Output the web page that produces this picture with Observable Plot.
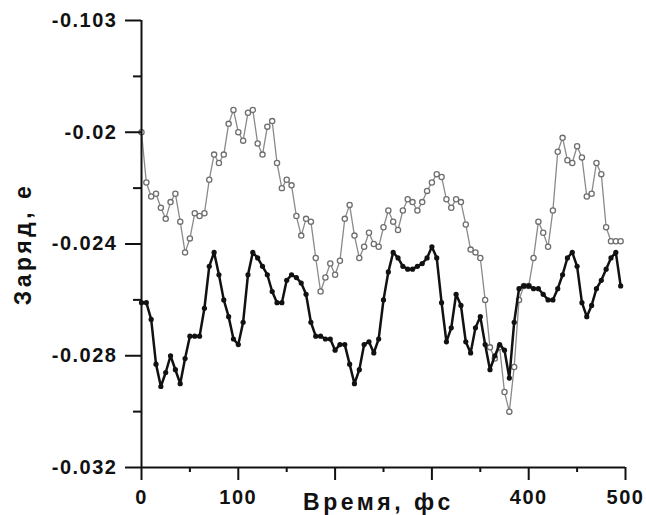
<!DOCTYPE html>
<html><head><meta charset="utf-8">
<script src="https://cdn.jsdelivr.net/npm/d3@7"></script>
<script src="https://cdn.jsdelivr.net/npm/@observablehq/plot@0.6"></script>
<style>
body{margin:0;background:#fff}
#chart svg{font-family:"Liberation Sans",Arial,sans-serif;background:#fff}
#chart g[aria-label*="tick label"] text{letter-spacing:1.5px}
</style></head><body><div id="chart"></div>
<script>
// Time, fs (sampling grid)
const times = [
  0,5,10,15,20,25,30,35,40,45,
  50,55,60,65,70,75,80,85,90,95,
  100,105,110,115,120,125,130,135,140,145,
  150,155,160,165,170,175,180,185,190,195,
  200,205,210,215,220,225,230,235,240,245,
  250,255,260,265,270,275,280,285,290,295,
  300,305,310,315,320,325,330,335,340,345,
  350,355,360,365,370,375,380,385,390,395,
  400,405,410,415,420,425,430,435,440,445,
  450,455,460,465,470,475,480,485,490,495
];
// Black series (filled markers)
const chargeBlack = [
  -0.0261,-0.0261,-0.0267,-0.0283,-0.0291,-0.0286,-0.0280,-0.0285,-0.0290,-0.0281,
  -0.0273,-0.0273,-0.0273,-0.0263,-0.0248,-0.0243,-0.0251,-0.0260,-0.0266,-0.0274,
  -0.0276,-0.0268,-0.0251,-0.0243,-0.0245,-0.0248,-0.0251,-0.0257,-0.0261,-0.0261,
  -0.0253,-0.0251,-0.0252,-0.0254,-0.0258,-0.0268,-0.0273,-0.0273,-0.0274,-0.0274,
  -0.0278,-0.0276,-0.0276,-0.0283,-0.0290,-0.0285,-0.0276,-0.0275,-0.0279,-0.0274,
  -0.0260,-0.0250,-0.0243,-0.0245,-0.0248,-0.0249,-0.0249,-0.0248,-0.0247,-0.0245,
  -0.0241,-0.0245,-0.0261,-0.0275,-0.0270,-0.0258,-0.0262,-0.0275,-0.0279,-0.0270,
  -0.0266,-0.0276,-0.0285,-0.0280,-0.0276,-0.0278,-0.0288,-0.0268,-0.0256,-0.0255,
  -0.0255,-0.0256,-0.0256,-0.0258,-0.0260,-0.0260,-0.0256,-0.0251,-0.0245,-0.0243,
  -0.0248,-0.0261,-0.0266,-0.0262,-0.0256,-0.0253,-0.0249,-0.0245,-0.0243,-0.0255
];
// Gray series (open markers)
const chargeGray = [
  -0.0200,-0.0218,-0.0223,-0.0222,-0.0227,-0.0231,-0.0225,-0.0222,-0.0232,-0.0243,
  -0.0238,-0.0229,-0.0230,-0.0229,-0.0217,-0.0208,-0.0211,-0.0208,-0.0197,-0.0192,
  -0.0200,-0.0203,-0.0193,-0.0192,-0.0204,-0.0208,-0.0198,-0.0196,-0.0211,-0.0220,
  -0.0217,-0.0219,-0.0230,-0.0237,-0.0231,-0.0232,-0.0245,-0.0257,-0.0252,-0.0247,
  -0.0251,-0.0246,-0.0231,-0.0226,-0.0237,-0.0245,-0.0241,-0.0236,-0.0240,-0.0241,
  -0.0234,-0.0228,-0.0232,-0.0235,-0.0228,-0.0224,-0.0225,-0.0228,-0.0225,-0.0221,
  -0.0218,-0.0215,-0.0216,-0.0224,-0.0227,-0.0224,-0.0225,-0.0233,-0.0242,-0.0243,
  -0.0245,-0.0260,-0.0277,-0.0281,-0.0277,-0.0293,-0.0300,-0.0284,-0.0260,-0.0255,
  -0.0255,-0.0245,-0.0232,-0.0236,-0.0241,-0.0228,-0.0207,-0.0202,-0.0210,-0.0211,
  -0.0205,-0.0209,-0.0223,-0.0222,-0.0211,-0.0215,-0.0234,-0.0239,-0.0239,-0.0239
];
const yTicks = [-0.032, -0.028, -0.024, -0.02, -0.016];
const yTickLabels = ["-0.032", "-0.028", "-0.024", "-0.02", "-0.103"];
const yMinorTicks = [-0.030, -0.026, -0.022, -0.018];
const xTicks = [0, 100, 200, 300, 400, 500];
const xTickLabels = ["0", "100", "", "", "400", "500"];
const xMinorTicks = [50, 150, 250, 350, 450];
const xTitle = "Время, фс";
const yTitle = "Заряд, е";

const black = times.map((t, i) => ({t, v: chargeBlack[i]}));
const gray = times.map((t, i) => ({t, v: chargeGray[i]}));

const plot = Plot.plot({
  width: 646,
  height: 515,
  marginLeft: 141,
  marginRight: 21,
  marginTop: 20,
  marginBottom: 48,
  style: {fontSize: "20px", fontWeight: "bold", fontFamily: "Liberation Sans, Arial, sans-serif", color: "#111"},
  x: {domain: [0, 500]},
  y: {domain: [-0.032, -0.016]},
  marks: [
    Plot.line(gray, {x: "t", y: "v", stroke: "#8a8a8a", strokeWidth: 1.3}),
    Plot.dot(gray, {x: "t", y: "v", r: 2.6, fill: "white", stroke: "#6e6e6e", strokeWidth: 1.3}),
    Plot.line(black, {x: "t", y: "v", stroke: "#111", strokeWidth: 2.5}),
    Plot.dot(black, {x: "t", y: "v", r: 2.6, fill: "#111"}),
    Plot.ruleX([0], {stroke: "#111", strokeWidth: 2}),
    Plot.ruleY([-0.032], {stroke: "#111", strokeWidth: 2}),
    Plot.axisY(yTicks, {tickSize: 16, tickPadding: 8, strokeWidth: 2, stroke: "#111",
      tickFormat: d => yTickLabels[yTicks.indexOf(d)], label: null}),
    Plot.axisY(yMinorTicks, {tickSize: 8, strokeWidth: 2, stroke: "#111", tickFormat: () => "", label: null}),
    Plot.axisX(xTicks, {tickSize: 13, tickPadding: 9, strokeWidth: 2, stroke: "#111",
      tickFormat: d => xTickLabels[xTicks.indexOf(d)], label: null}),
    Plot.axisX(xMinorTicks, {tickSize: 5, strokeWidth: 2, stroke: "#111", tickFormat: () => "", label: null}),
    Plot.text([xTitle], {frameAnchor: "bottom", dy: 42, dx: -5, lineAnchor: "bottom", textAnchor: "middle", fontSize: 23, fontWeight: "bold", fill: "#111"}),
    Plot.text([yTitle], {frameAnchor: "left", dx: -118, rotate: -90, textAnchor: "middle", lineAnchor: "middle", fontSize: 23, fontWeight: "bold", fill: "#111"})
  ]
});
d3.select(plot).selectAll("text")
  .filter(function(){ return this.textContent === xTitle || this.textContent === yTitle; })
  .style("letter-spacing", "3.5px");
document.getElementById("chart").appendChild(plot);
</script></body></html>
